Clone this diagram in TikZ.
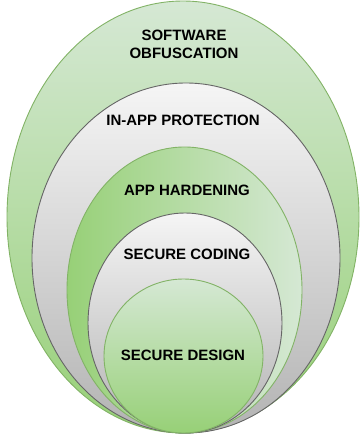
\documentclass[tikz,border=0pt]{standalone}
\usepackage{fontspec}
\setmainfont{Liberation Sans}
\begin{document}
\begin{tikzpicture}[x=1pt,y=-1pt,
  greenring/.style={draw=ringgreen,line width=0.9pt},
  grayring/.style={draw=ringgray,line width=0.9pt},
  vgreen/.style={greenring,top color=lightgreen,bottom color=deepgreen},
  hgreen/.style={greenring,left color=deepgreen,right color=lightgreen},
  vgray/.style={grayring,top color=lightgray,bottom color=midgray},
  label/.style={font=\fontsize{15}{18}\selectfont\bfseries,text=black,align=center,inner sep=0pt}]
\definecolor{lightgreen}{HTML}{D5E8D4}
\definecolor{deepgreen}{HTML}{97D077}
\definecolor{ringgreen}{HTML}{82B366}
\definecolor{lightgray}{HTML}{F5F5F5}
\definecolor{midgray}{HTML}{B3B3B3}
\definecolor{ringgray}{HTML}{666666}
\useasboundingbox (0,0) rectangle (359,434);
% nested layers, all resting on the same bottom point
\shade[vgreen] (183,217) ellipse [x radius=176, y radius=216];
\shade[vgray]  (186,258) ellipse [x radius=154, y radius=175];
\shade[hgreen] (184.5,290) ellipse [x radius=117.5, y radius=143];
\shade[vgray]  (185,323) ellipse [x radius=97, y radius=110];
\shade[vgreen] (183.5,356) ellipse [x radius=79.5, y radius=77];
% layer captions
\node[label] (obf)  at (184,44)  {SOFTWARE\\OBFUSCATION};
\node[label] (prot) at (183,120) {IN-APP PROTECTION};
\node[label] (hard) at (187,190) {APP HARDENING};
\node[label] (code) at (187,254) {SECURE CODING};
\node[label] (des)  at (183,355) {SECURE DESIGN};
\end{tikzpicture}
\end{document}
